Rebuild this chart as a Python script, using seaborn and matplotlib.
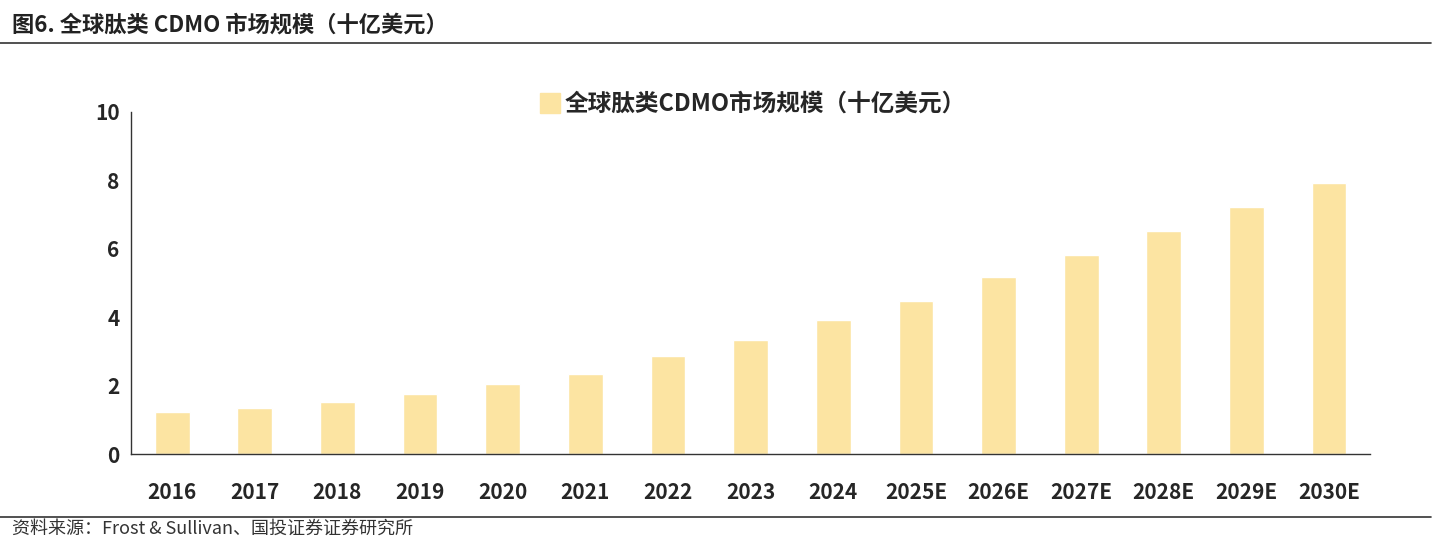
import matplotlib
matplotlib.use("Agg")
import matplotlib.pyplot as plt
import seaborn as sns
import pandas as pd
from matplotlib.lines import Line2D

years = ["2016", "2017", "2018", "2019", "2020", "2021", "2022", "2023", "2024",
         "2025E", "2026E", "2027E", "2028E", "2029E", "2030E"]
market_size = [1.23, 1.35, 1.52, 1.75, 2.05, 2.34, 2.87, 3.33, 3.92,
               4.47, 5.18, 5.82, 6.52, 7.22, 7.92]
series_name = "全球肽类CDMO市场规模（十亿美元）"
bar_color = "#FCE4A2"

sns.set_style("white")
plt.rcParams['font.family'] = ['Noto Sans CJK SC', 'DejaVu Sans']

df = pd.DataFrame({"year": years, "value": market_size})

fig = plt.figure(figsize=(14.38, 5.46), dpi=100)
ax = fig.add_axes([0.091, 0.168, 0.862, 0.627])
sns.barplot(data=df, x="year", y="value", color=bar_color, width=0.42,
            saturation=1, ax=ax)

ax.set_ylim(0, 10)
ax.set_yticks([0, 2, 4, 6, 8, 10])
ax.set_xlim(-0.5, len(years) - 0.5)
ax.set_xlabel("")
ax.set_ylabel("")
ax.tick_params(axis="both", labelsize=15, length=0)
ax.tick_params(axis="x", pad=20)
ax.tick_params(axis="y", pad=8)
for lab in ax.get_xticklabels() + ax.get_yticklabels():
    lab.set_fontweight("bold")
for s in ["top", "right"]:
    ax.spines[s].set_visible(False)
for s in ["left", "bottom"]:
    ax.spines[s].set_color("#333333")
    ax.spines[s].set_linewidth(1.0)

handle = Line2D([], [], marker="s", linestyle="", color=bar_color, markersize=14)
ax.legend([handle], [series_name], loc="upper center", bbox_to_anchor=(0.5, 1.12),
          frameon=False, prop={"size": 17, "weight": "bold"}, handletextpad=0.0,
          handlelength=1.2)

fig.text(0.008, 0.955, "图6. 全球肽类 CDMO 市场规模（十亿美元）", fontsize=16,
         fontweight="bold", va="center", color="#222222")
fig.add_artist(Line2D([0.0, 0.995], [0.922, 0.922], color="#333333", lw=1.2))
fig.add_artist(Line2D([0.0, 0.995], [0.053, 0.053], color="#333333", lw=1.2))
fig.text(0.008, 0.032, "资料来源：Frost & Sullivan、国投证券证券研究所", fontsize=13,
         style="italic", va="center", color="#333333")

fig.savefig("out.png", dpi=100)
